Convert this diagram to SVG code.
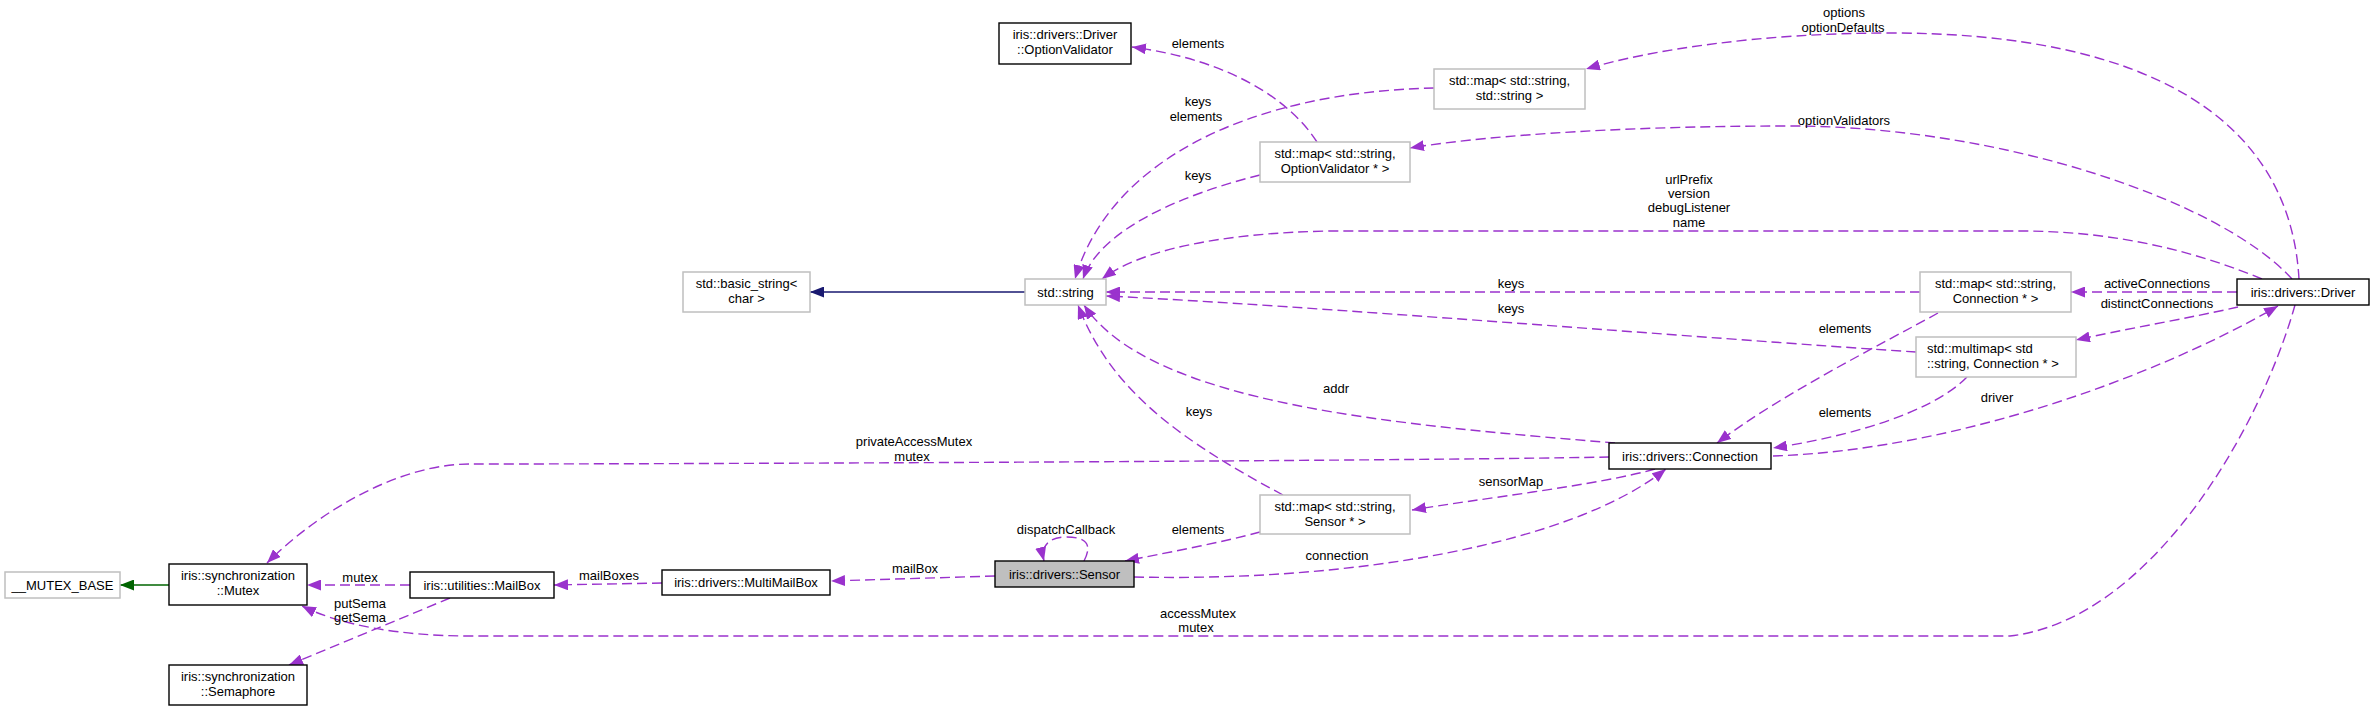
<svg xmlns="http://www.w3.org/2000/svg" width="2375" height="711" viewBox="0 0 2375 711">
<style>
text{font-family:"Liberation Sans",Arial,sans-serif;font-size:13px;fill:#000;text-anchor:middle}
.b{fill:#fff;stroke:#000;stroke-width:1.4}
.g{fill:#fff;stroke:#bfbfbf;stroke-width:1.5}
.s{fill:#bfbfbf;stroke:#000;stroke-width:1.4}
.e{fill:none;stroke:#9a32cd;stroke-width:1.4;stroke-dasharray:10,5;marker-end:url(#ap)}
.l{fill:none;stroke:#9a32cd;stroke-width:1.4;stroke-dasharray:10,5}
</style>
<defs>
<marker id="ap" markerUnits="userSpaceOnUse" markerWidth="15" markerHeight="11" refX="14" refY="5.5" orient="auto"><path d="M0,0 L14,5.5 L0,11 z" fill="#9a32cd"/></marker>
<marker id="ag" markerUnits="userSpaceOnUse" markerWidth="15" markerHeight="11" refX="14" refY="5.5" orient="auto"><path d="M0,0 L14,5.5 L0,11 z" fill="#006400"/></marker>
<marker id="an" markerUnits="userSpaceOnUse" markerWidth="15" markerHeight="11" refX="14" refY="5.5" orient="auto"><path d="M0,0 L14,5.5 L0,11 z" fill="#191970"/></marker>
</defs>
<rect width="2375" height="711" fill="#fff"/>
<g id="connectors">
<path d="M169,585 L120,585" fill="none" stroke="#006400" stroke-width="1.5" marker-end="url(#ag)"/>
<path d="M1025,292 L810,292" fill="none" stroke="#191970" stroke-width="1.5" marker-end="url(#an)"/>
<path class="e" d="M410,585 L307,585"/>
<path class="e" d="M450,598 L289,665"/>
<path class="e" d="M662,583 L554,585"/>
<path class="e" d="M995,576 L831,581"/>
<path class="e" d="M1084,561 C1095,540 1080,537 1066,537 C1050,537 1040,545 1044,561"/>
<path class="e" d="M1260,532 C1220,543 1160,554 1125,561"/>
<path class="e" d="M1283,495 C1180,440 1110,390 1078,305"/>
<path class="e" d="M1655,469 C1600,485 1470,500 1412,510"/>
<path class="e" d="M1134,577 C1350,582 1570,545 1666,469"/>
<path class="e" d="M1609,457 C1400,461 700,464 470,464 C400,464 320,510 267,563"/>
<path class="e" d="M1615,443 C1400,425 1150,405 1084,305"/>
<path class="e" d="M1938,313 C1880,345 1780,395 1717,443"/>
<path class="e" d="M1967,377 C1930,415 1840,438 1773,448"/>
<path class="e" d="M1920,292 L1106,292"/>
<path class="e" d="M1916,352 C1700,338 1300,305 1106,296"/>
<path class="e" d="M2237,292 L2071,292"/>
<path class="e" d="M2238,307 C2190,318 2120,330 2076,340"/>
<path class="e" d="M1773,456 C1950,450 2150,380 2278,306"/>
<path class="e" d="M2295,305 C2260,430 2150,620 2010,636 L470,636 C400,636 340,625 302,606"/>
<path class="e" d="M2262,279 C2180,245 2100,231 2020,231 L1330,231 C1220,233 1140,250 1102,279"/>
<path class="e" d="M2292,279 C2220,200 2000,126 1790,126 C1600,126 1470,138 1410,148"/>
<path class="e" d="M2299,279 C2290,120 2150,33 1890,33 C1760,33 1650,50 1586,69"/>
<path class="e" d="M1434,88 C1250,92 1110,160 1075,279"/>
<path class="e" d="M1260,175 C1180,195 1100,230 1083,279"/>
<path class="e" d="M1317,142 C1290,100 1230,60 1132,47"/>
<text x="360" y="581.5">mutex</text>
<text x="360" y="607.5">putSema</text>
<text x="360" y="621.5">getSema</text>
<text x="609" y="579.5">mailBoxes</text>
<text x="915" y="572.5">mailBox</text>
<text x="1066" y="533.5">dispatchCallback</text>
<text x="1198" y="533.5">elements</text>
<text x="1199" y="415.5">keys</text>
<text x="1511" y="485.5">sensorMap</text>
<text x="1337" y="559.5">connection</text>
<text x="914" y="445.5">privateAccessMutex</text>
<text x="912" y="460.5">mutex</text>
<text x="1336" y="392.5">addr</text>
<text x="1845" y="332.5">elements</text>
<text x="1845" y="416.5">elements</text>
<text x="1511" y="287.5">keys</text>
<text x="1511" y="312.5">keys</text>
<text x="2157" y="287.5">activeConnections</text>
<text x="2157" y="307.5">distinctConnections</text>
<text x="1997" y="401.5">driver</text>
<text x="1198" y="617.5">accessMutex</text>
<text x="1196" y="631.5">mutex</text>
<text x="1689" y="183.5">urlPrefix</text>
<text x="1689" y="197.5">version</text>
<text x="1689" y="211.5">debugListener</text>
<text x="1689" y="226.5">name</text>
<text x="1844" y="124.5">optionValidators</text>
<text x="1844" y="16.5">options</text>
<text x="1843" y="31.5">optionDefaults</text>
<text x="1198" y="105.5">keys</text>
<text x="1196" y="120.5">elements</text>
<text x="1198" y="179.5">keys</text>
<text x="1198" y="47.5">elements</text>
</g>
<g id="mutex_base"><rect class="g" x="5" y="572" width="115" height="26"/><text x="62.5" y="589.5">__MUTEX_BASE</text></g>
<g id="mutex"><rect class="b" x="169" y="564" width="138" height="41"/><text x="238" y="580">iris::synchronization</text><text x="238" y="595">::Mutex</text></g>
<g id="semaphore"><rect class="b" x="169" y="665" width="138" height="40"/><text x="238" y="681">iris::synchronization</text><text x="238" y="696">::Semaphore</text></g>
<g id="mailbox"><rect class="b" x="410" y="572" width="144" height="26"/><text x="482" y="589.5">iris::utilities::MailBox</text></g>
<g id="multimailbox"><rect class="b" x="662" y="570" width="168" height="25"/><text x="746" y="587">iris::drivers::MultiMailBox</text></g>
<g id="sensor"><rect class="s" x="995" y="561" width="139" height="26"/><text x="1064.5" y="578.5">iris::drivers::Sensor</text></g>
<g id="map_sensor"><rect class="g" x="1260" y="495" width="150" height="39"/><text x="1335" y="511">std::map&lt; std::string,</text><text x="1335" y="526">Sensor * &gt;</text></g>
<g id="connection"><rect class="b" x="1609" y="443" width="162" height="26"/><text x="1690" y="460.5">iris::drivers::Connection</text></g>
<g id="basic_string"><rect class="g" x="683" y="272" width="127" height="40"/><text x="746.5" y="288">std::basic_string&lt;</text><text x="746.5" y="303">char &gt;</text></g>
<g id="std_string"><rect class="g" x="1025" y="279" width="81" height="26"/><text x="1065.5" y="296.5">std::string</text></g>
<g id="option_validator"><rect class="b" x="999" y="23" width="132" height="41"/><text x="1065" y="39">iris::drivers::Driver</text><text x="1065" y="54">::OptionValidator</text></g>
<g id="map_string_string"><rect class="g" x="1434" y="69" width="151" height="40"/><text x="1509.5" y="85">std::map&lt; std::string,</text><text x="1509.5" y="100">std::string &gt;</text></g>
<g id="map_option_validator"><rect class="g" x="1260" y="142" width="150" height="40"/><text x="1335" y="158">std::map&lt; std::string,</text><text x="1335" y="173">OptionValidator * &gt;</text></g>
<g id="map_connection"><rect class="g" x="1920" y="272" width="151" height="40"/><text x="1995.5" y="288">std::map&lt; std::string,</text><text x="1995.5" y="303">Connection * &gt;</text></g>
<g id="multimap_connection"><rect class="g" x="1916" y="337" width="160" height="40"/><text x="1927" y="353" style="text-anchor:start">std::multimap&lt; std</text><text x="1927" y="368" style="text-anchor:start">::string, Connection * &gt;</text></g>
<g id="driver"><rect class="b" x="2237" y="279" width="132" height="26"/><text x="2303" y="296.5">iris::drivers::Driver</text></g>
</svg>
